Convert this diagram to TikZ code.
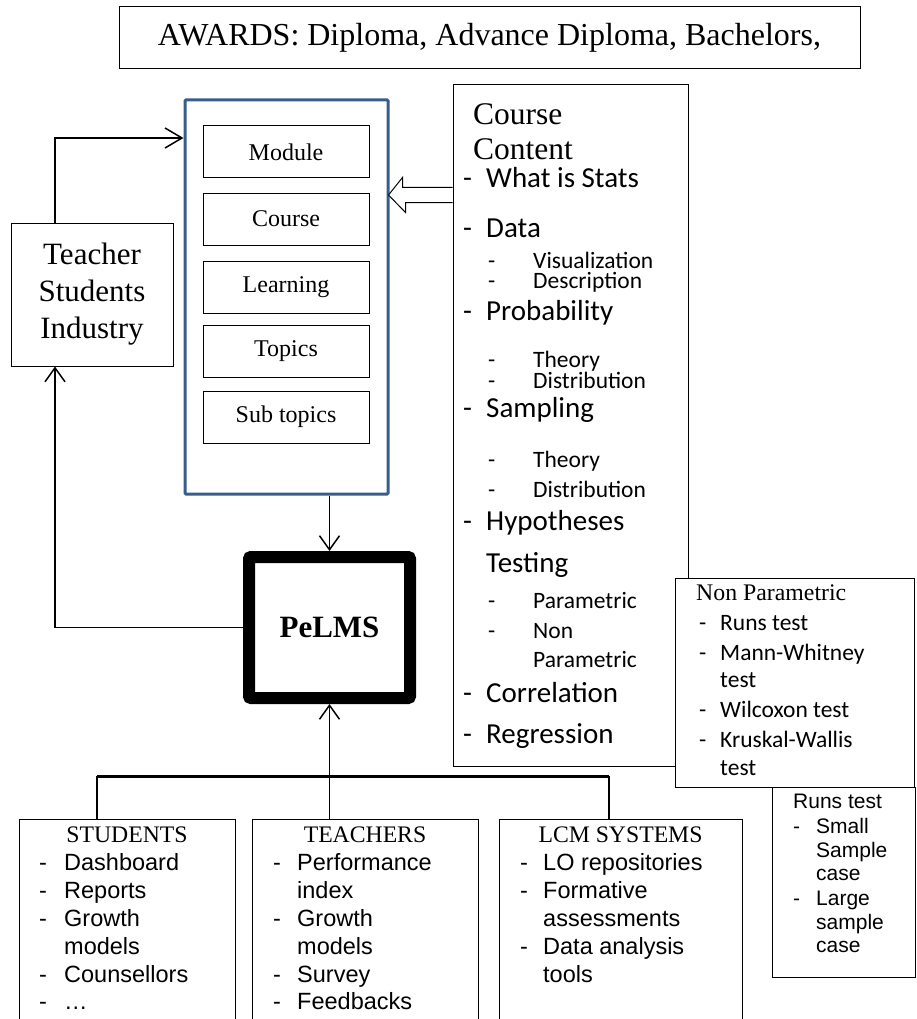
\documentclass[tikz,border=0pt]{standalone}
\usepackage{fontspec}
\setmainfont{Liberation Serif}
\newfontfamily\calibri{Carlito}
\newfontfamily\arial{Liberation Sans}
\usetikzlibrary{arrows.meta,positioning}
\definecolor{frameblue}{HTML}{385D8A}

\tikzset{
  box/.style={draw, line width=1pt, fill=white, inner sep=0pt, align=center},
  unit/.style={box, minimum width=166pt, minimum height=52pt, font=\fontsize{24pt}{29pt}\selectfont},
  link/.style={line width=1.5pt, -{Straight Barb[length=14pt,width=20pt]}},
  txt/.style={anchor=base west, inner sep=0pt},
  bigitem/.style={txt, font=\calibri\fontsize{29pt}{35pt}\selectfont},
  subitem/.style={txt, font=\calibri\fontsize{23.5pt}{28pt}\selectfont},
  headtxt/.style={inner sep=0pt, anchor=base, font=\fontsize{23.7pt}{28pt}\selectfont},
  listtxt/.style={txt, font=\arial\fontsize{23.5pt}{28pt}\selectfont},
  runtxt/.style={txt, font=\arial\fontsize{21pt}{25pt}\selectfont},
}

\begin{document}
\begin{tikzpicture}[x=1pt,y=-1pt]
  \clip (0,0) rectangle (917,1019);

  \node[box, minimum width=741pt, minimum height=62pt, font=\fontsize{32pt}{38pt}\selectfont] (awards) at (489.5,38) {AWARDS: Diploma, Advance Diploma, Bachelors,};

  \node[draw=frameblue, line width=3pt, rounded corners=1pt, minimum width=203pt, minimum height=394pt] (stack) at (286.5,297) {};
  \foreach \n/\y/\t in {module/152/Module, course/219/Course, learning/287/Learning, topics/351.5/Topics, subtopics/417/Sub topics}
    \node[unit] (\n) at (286,\y) {\t};

  \node[box, minimum width=162pt, minimum height=143pt, font=\fontsize{31pt}{37pt}\selectfont] (users) at (92,294.5) {Teacher\\Students\\Industry};

  \node[box, line width=12pt, rounded corners=2pt, outer sep=6pt, minimum width=161pt, minimum height=141pt, font=\bfseries\fontsize{31pt}{37pt}\selectfont] (pelms) at (329.5,627.5) {PeLMS};

  \node[box, minimum width=235pt, minimum height=681pt] (content) at (570.5,425.5) {};
  \node[txt, font=\fontsize{31.5pt}{35pt}\selectfont] (cctitle) at (473,125) {Course};
  \node[txt, font=\fontsize{31.5pt}{35pt}\selectfont] (cctitleb) at (473,160) {Content};
  \foreach \y/\d/\t in {188/-/What is Stats, 237/-/Data, 320/-/Probability, 417/-/Sampling, 530/-/Hypotheses, 572//Testing, 702/-/Correlation, 743/-/Regression} {
    \node[bigitem] (ccd\y) at (463,\y) {\d};
    \node[bigitem] (cci\y) at (486,\y) {\t};
  }
  \foreach \y/\d/\t in {268/-/Visualization, 288/-/Description, 367/-/Theory, 388/-/Distribution, 467/-/Theory, 497/-/Distribution, 608/-/Parametric, 638/-/Non, 667//Parametric} {
    \node[subitem] (csd\y) at (488,\y) {\d};
    \node[subitem] (csi\y) at (533,\y) {\t};
  }

  \node[box, minimum width=239pt, minimum height=209pt] (nonpar) at (794.5,682.5) {};
  \node[txt, font=\fontsize{23.8pt}{28pt}\selectfont] (nptitle) at (696,600) {Non Parametric};
  \foreach \y/\d/\t in {630/-/Runs test, 660/-/Mann-Whitney, 687//test, 717/-/Wilcoxon test, 747/-/Kruskal-Wallis, 775//test} {
    \node[subitem] (npd\y) at (699,\y) {\d};
    \node[subitem] (npi\y) at (720,\y) {\t};
  }

  \node[box, minimum width=143pt, minimum height=190pt] (runs) at (843.5,882) {};
  \node[runtxt] (rttitle) at (793,808) {Runs test};
  \foreach \y/\d/\t in {833/-/Small, 857//Sample, 880//case, 905/-/Large, 929//sample, 952//case} {
    \node[runtxt] (rtd\y) at (793,\y) {\d};
    \node[runtxt] (rti\y) at (816,\y) {\t};
  }

  \node[box, minimum width=216pt, minimum height=230pt] (students) at (127,934) {};
  \node[box, minimum width=226pt, minimum height=230pt] (teachers) at (365,934) {};
  \node[box, minimum width=243pt, minimum height=230pt] (lcm) at (620.5,934) {};
  \node[headtxt] (sthead) at (127,842) {STUDENTS};
  \node[headtxt] (tchead) at (365,842) {TEACHERS};
  \node[headtxt] (lchead) at (620.5,842) {LCM SYSTEMS};
  \foreach \y/\d/\t in {870/-/Dashboard, 898/-/Reports, 926/-/Growth, 954//models, 982/-/Counsellors, 1009/-/…} {
    \node[listtxt] (std\y) at (39,\y) {\d};
    \node[listtxt] (sti\y) at (64,\y) {\t};
  }
  \foreach \y/\d/\t in {870/-/Performance, 898//index, 926/-/Growth, 954//models, 982/-/Survey, 1009/-/Feedbacks} {
    \node[listtxt] (tcd\y) at (273,\y) {\d};
    \node[listtxt] (tci\y) at (297,\y) {\t};
  }
  \foreach \y/\d/\t in {870/-/LO repositories, 898/-/Formative, 926//assessments, 954/-/Data analysis, 982//tools} {
    \node[listtxt] (lcd\y) at (520,\y) {\d};
    \node[listtxt] (lci\y) at (543,\y) {\t};
  }

  \coordinate (turn) at (55,138);
  \draw[link, -{Straight Barb[length=17pt,width=20pt]}] (users.north -| turn) -- (turn) -- (stack.west |- turn);
  \draw[link] (pelms.west) -| (users.south -| turn);
  \draw[link] (stack.south -| pelms.north) -- (pelms.north);
  \draw[line width=1pt, fill=white] (content.west |- 0,187.5) -- ++(-50,0) -- ++(0,-10) -- ([xshift=-1pt]stack.east |- 0,195) -- ++(17,17.5) -- ++(0,-10) -- (content.west |- 0,202.5);

  \coordinate (busl) at (97,776);
  \coordinate (busr) at (609,776);
  \draw[line width=3pt] (busl) -- (busr);
  \draw[line width=1.5pt] (busl) -- (students.north -| busl);
  \draw[line width=1.5pt] (busr) -- (lcm.north -| busr);
  \draw[link] (teachers.north -| pelms.south) -- (pelms.south);
\end{tikzpicture}
\end{document}
